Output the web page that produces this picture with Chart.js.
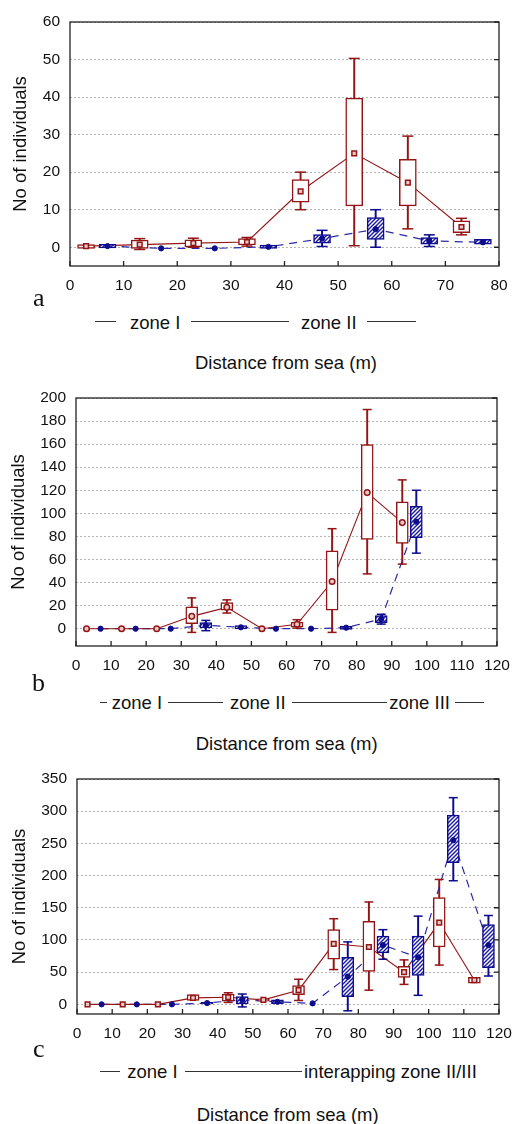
<!DOCTYPE html>
<html lang="en">
<head>
<meta charset="UTF-8" />
<title>No of individuals vs distance from sea</title>
<script src="https://cdn.jsdelivr.net/npm/chart.js@4"></script>
<style>
  body { margin:0; background:#fff; width:513px; height:1124px; position:relative; overflow:hidden;
         font-family:'Liberation Sans', Arial, sans-serif; color:#111; }
  canvas { position:absolute; left:0; }
  .t { position:absolute; white-space:nowrap; line-height:1; font-size:18.5px; }
  .letter { position:absolute; font-family:'Liberation Serif', serif; font-size:26px; line-height:1; }
  .rule { position:absolute; height:0; border-top:1px solid #333; }
</style>
</head>
<body>
<canvas id="chartA" width="513" height="300" style="top:0px"></canvas>
<canvas id="chartB" width="513" height="304" style="top:376px"></canvas>
<canvas id="chartC" width="513" height="291" style="top:757px"></canvas>

<!-- panel a labels -->
<div class="letter" style="left:33px; top:285px">a</div>
<div class="rule" style="left:95px; width:21px; top:321px"></div>
<div class="t" style="left:130px; top:313.6px">zone I</div>
<div class="rule" style="left:191px; width:98px; top:321px"></div>
<div class="t" style="left:301px; top:313.6px">zone II</div>
<div class="rule" style="left:367px; width:49px; top:321px"></div>
<div class="t" style="left:195px; top:354.3px">Distance from sea (m)</div>

<!-- panel b labels -->
<div class="letter" style="left:32px; top:670px">b</div>
<div class="rule" style="left:100px; width:7px; top:702px"></div>
<div class="t" style="left:111.7px; top:693.6px">zone I</div>
<div class="rule" style="left:168px; width:55px; top:702px"></div>
<div class="t" style="left:230px; top:693.6px">zone II</div>
<div class="rule" style="left:292px; width:95px; top:702px"></div>
<div class="t" style="left:389.3px; top:693.6px">zone III</div>
<div class="rule" style="left:455px; width:29px; top:702px"></div>
<div class="t" style="left:195.7px; top:735px">Distance from sea (m)</div>

<!-- panel c labels -->
<div class="letter" style="left:33px; top:1036px">c</div>
<div class="rule" style="left:100px; width:20px; top:1071px"></div>
<div class="t" style="left:127.3px; top:1063px">zone I</div>
<div class="rule" style="left:185px; width:117px; top:1071px"></div>
<div class="t" style="left:304px; top:1063px">interapping zone II/III</div>
<div class="t" style="left:196.7px; top:1105.8px">Distance from sea (m)</div>

<script>
// ---- panel a ----
const aXTicks = [0, 10, 20, 30, 40, 50, 60, 70, 80];
const aYTicks = [0, 10, 20, 30, 40, 50, 60];
const aRedX   = [3, 13, 23, 33, 43, 53, 63, 73];
const aRedMed = [0.3, 0.7, 1.1, 1.4, 14.9, 25, 17.2, 5.4];
const aRedQ1  = [-0.3, -0.3, 0.1, 0.6, 12, 11, 11, 3.9];
const aRedQ3  = [0.7, 1.9, 2.0, 2.3, 18, 39.7, 23.4, 7];
const aRedLo  = [null, -0.6, 0, 0.3, 10, 0.4, 4.9, 3.3];
const aRedHi  = [null, 2.3, 2.4, 2.6, 20, 50.3, 29.6, 7.7];
const aBlueX   = [7, 17, 27, 37, 47, 57, 67, 77];
const aBlueMed = [0.3, -0.3, -0.3, 0.1, 2.3, 4.8, 1.7, 1.3];
const aBlueQ1  = [-0.2, null, null, -0.3, 1.1, 2.1, 0.8, 0.8];
const aBlueQ3  = [0.8, null, null, 0.6, 3.4, 7.9, 2.6, 2.1];
const aBlueLo  = [null, null, null, null, 0.2, 0, 0.2, null];
const aBlueHi  = [null, null, null, null, 4.5, 10, 3.3, null];

// ---- panel b ----
const bXTicks = [0, 10, 20, 30, 40, 50, 60, 70, 80, 90, 100, 110, 120];
const bYTicks = [0, 20, 40, 60, 80, 100, 120, 140, 160, 180, 200];
const bRedX   = [3, 13, 23, 33, 43, 53, 63, 73, 83, 93];
const bRedMed = [0, 0, 0, 10.7, 18.5, 0, 3.8, 40.9, 118, 92];
const bRedQ1  = [null, null, null, 4.3, 16, null, 1.4, 16, 77.4, 74];
const bRedQ3  = [null, null, null, 19, 22.6, null, 5.8, 67.5, 159.7, 110];
const bRedLo  = [null, null, null, -3.2, 13.6, null, 0.5, -3.2, 47.5, 56];
const bRedHi  = [null, null, null, 26.7, 25, null, 7.8, 86.7, 190, 129];
const bBlueX   = [7, 17, 27, 37, 47, 57, 67, 77, 87, 97];
const bBlueMed = [0, 0, 0, 2.9, 1.2, 0, 0, 0.9, 8.4, 92.8];
const bBlueQ1  = [null, null, null, 0.6, -0.3, null, null, -0.6, 5.2, 79];
const bBlueQ3  = [null, null, null, 5.2, 2.6, null, null, 2.3, 11.3, 106];
const bBlueLo  = [null, null, null, -1.7, null, null, null, null, 4, 65.5];
const bBlueHi  = [null, null, null, 7.2, null, null, null, null, 12.5, 120];

// ---- panel c ----
const cXTicks = [0, 10, 20, 30, 40, 50, 60, 70, 80, 90, 100, 110, 120];
const cYTicks = [0, 50, 100, 150, 200, 250, 300, 350];
const cRedX   = [3, 13, 23, 33, 43, 53, 63, 73, 83, 93, 103, 113];
const cRedMed = [0, 0, 0, 10, 11, 7, 22, 94, 89, 50, 127, 37.5];
const cRedQ1  = [null, null, null, 6, 5, 5, 15, 70, 51, 42, 89, 33];
const cRedQ3  = [null, null, null, 15, 16, 8.5, 29, 116, 129, 59, 166, 42];
const cRedLo  = [null, null, null, null, 3, null, 6, 54, 22, 31, 61, null];
const cRedHi  = [null, null, null, null, 18, null, 39, 133, 159, 69, 194, null];
const cBlueX   = [7, 17, 27, 37, 47, 57, 67, 77, 87, 97, 107, 117];
const cBlueMed = [0, 0, 0, 2, 7, 4, 1.5, 43, 92, 73, 255, 92];
const cBlueQ1  = [null, null, null, 0.5, 0, 1, null, 12, 80, 45, 220, 57];
const cBlueQ3  = [null, null, null, 3, 12, 7, null, 73, 106, 106, 294, 124];
const cBlueLo  = [null, null, null, null, -4, null, null, -10, 70, 14, 192, 44];
const cBlueHi  = [null, null, null, null, 16, null, null, 97, 116, 137, 321, 138];

const RED = '#931515';
const BLUE = '#0c0c8c';
const FONT = 'Liberation Sans, Arial, sans-serif';

function hatch() {
  const c = document.createElement('canvas');
  c.width = 4; c.height = 4;
  const g = c.getContext('2d');
  g.fillStyle = '#1c1ca4';
  g.fillRect(0, 0, 4, 4);
  g.strokeStyle = '#fff';
  g.lineWidth = 1.4;
  g.beginPath();
  g.moveTo(0, 4); g.lineTo(4, 0);
  g.moveTo(-1, 1); g.lineTo(1, -1);
  g.moveTo(3, 5); g.lineTo(5, 3);
  g.stroke();
  return g.createPattern(c, 'repeat');
}

// border box + inward ticks on bottom and right edges
const frame = {
  id: 'frame',
  afterDraw(chart) {
    const { ctx, chartArea: a, scales: { x, y } } = chart;
    ctx.save();
    ctx.strokeStyle = '#222';
    ctx.lineWidth = 1.3;
    ctx.strokeRect(a.left, a.top, a.right - a.left, a.bottom - a.top);
    ctx.beginPath();
    x.ticks.forEach(t => {
      const px = x.getPixelForValue(t.value);
      ctx.moveTo(px, a.bottom); ctx.lineTo(px, a.bottom - 5);
    });
    y.ticks.forEach(t => {
      const py = y.getPixelForValue(t.value);
      ctx.moveTo(a.right, py); ctx.lineTo(a.right - 5, py);
    });
    ctx.stroke();
    ctx.restore();
  }
};

const ranges = (xs, a, b) => xs.map((x, i) => a[i] == null ? null : { x, y: [a[i], b[i]] }).filter(Boolean);
const caps = (xs, lo, hi) => xs.flatMap((x, i) => lo[i] == null ? [] : [{ x, y: lo[i] }, { x, y: hi[i] }]);
const pts = (xs, m) => xs.map((x, i) => ({ x, y: m[i] }));

function boxChart(id, p) {
  const pattern = hatch();
  const bar = (data, bg, border, w, order, bw) => ({
    type: 'bar', data, backgroundColor: bg, borderColor: border, borderWidth: bw,
    borderSkipped: false, barThickness: w, grouped: false, order
  });
  return new Chart(document.getElementById(id), {
    type: 'bar',
    data: {
      datasets: [
        bar(ranges(p.rx, p.rlo, p.rhi), RED, RED, 1.3, 8, 0),
        bar(ranges(p.bx, p.blo, p.bhi), BLUE, BLUE, 1.3, 8, 0),
        { type: 'line', data: pts(p.rx, p.rmed), borderColor: RED, borderWidth: 1.1,
          pointRadius: 0, tension: 0, order: 7 },
        { type: 'line', data: pts(p.bx, p.bmed), borderColor: '#2a2aa6', borderWidth: 1.2,
          borderDash: [8, 6], pointRadius: 0, tension: 0, order: 7 },
        bar(ranges(p.rx, p.rq1, p.rq3), '#fff', RED, p.boxW, 5, 1.5),
        bar(ranges(p.bx, p.bq1, p.bq3), pattern, BLUE, p.boxW, 5, 1.5),
        { type: 'scatter', data: caps(p.rx, p.rlo, p.rhi), pointStyle: 'line',
          pointRadius: p.capR, borderColor: RED, borderWidth: 1.5, order: 3 },
        { type: 'scatter', data: caps(p.bx, p.blo, p.bhi), pointStyle: 'line',
          pointRadius: p.capR, borderColor: BLUE, borderWidth: 1.5, order: 3 },
        { type: 'scatter', data: pts(p.rx, p.rmed), pointStyle: p.redMark,
          pointRadius: p.redMark === 'rect' ? 3.3 : 2.8, backgroundColor: '#e8c8c8',
          borderColor: RED, borderWidth: 1.5, order: 1 },
        { type: 'scatter', data: pts(p.bx, p.bmed), pointStyle: 'circle',
          pointRadius: 2.6, backgroundColor: BLUE, borderColor: BLUE, borderWidth: 1, order: 1 }
      ]
    },
    options: {
      responsive: false,
      animation: false,
      devicePixelRatio: 1,
      events: [],
      layout: { padding: { left: 0, right: p.rightPad, top: 22, bottom: 0 } },
      plugins: { legend: { display: false }, tooltip: { enabled: false } },
      scales: {
        x: {
          type: 'linear', min: 0, max: p.xTicks[p.xTicks.length - 1], offset: false,
          afterBuildTicks: s => { s.ticks = p.xTicks.map(v => ({ value: v })); },
          afterFit: s => { s.height = 34; s.paddingLeft = 0; s.paddingRight = 0; },
          grid: { display: false, drawTicks: false, offset: false },
          border: { display: false },
          ticks: { color: '#111', font: { family: FONT, size: 15.5 }, padding: 10,
                   maxRotation: 0, autoSkip: false }
        },
        y: {
          type: 'linear', min: p.yMin, max: p.yTicks[p.yTicks.length - 1],
          afterBuildTicks: s => { s.ticks = p.yTicks.map(v => ({ value: v })); },
          afterFit: s => { s.width = p.axisW; s.paddingTop = 0; s.paddingBottom = 0; },
          grid: { color: '#b4b4b4', lineWidth: 1, drawTicks: false },
          border: { display: false, dash: [2, 2] },
          ticks: { color: '#111', font: { family: FONT, size: 15.5 }, padding: 10 },
          title: { display: true, text: 'No of individuals', color: '#111',
                   font: { family: FONT, size: 18.5 }, padding: { top: p.titlePad, bottom: 0 } }
        }
      }
    },
    plugins: [frame]
  });
}

boxChart('chartA', {
  xTicks: aXTicks, yTicks: aYTicks, yMin: -5, axisW: 70, rightPad: 14, titlePad: 10,
  boxW: 17, capR: 5.5, redMark: 'rect',
  rx: aRedX, rmed: aRedMed, rq1: aRedQ1, rq3: aRedQ3, rlo: aRedLo, rhi: aRedHi,
  bx: aBlueX, bmed: aBlueMed, bq1: aBlueQ1, bq3: aBlueQ3, blo: aBlueLo, bhi: aBlueHi
});
boxChart('chartB', {
  xTicks: bXTicks, yTicks: bYTicks, yMin: -15, axisW: 76, rightPad: 16, titlePad: 7.6,
  boxW: 12, capR: 4.5, redMark: 'circle',
  rx: bRedX, rmed: bRedMed, rq1: bRedQ1, rq3: bRedQ3, rlo: bRedLo, rhi: bRedHi,
  bx: bBlueX, bmed: bBlueMed, bq1: bBlueQ1, bq3: bBlueQ3, blo: bBlueLo, bhi: bBlueHi
});
boxChart('chartC', {
  xTicks: cXTicks, yTicks: cYTicks, yMin: -15, axisW: 77, rightPad: 14, titlePad: 8.6,
  boxW: 12, capR: 4.5, redMark: 'rect',
  rx: cRedX, rmed: cRedMed, rq1: cRedQ1, rq3: cRedQ3, rlo: cRedLo, rhi: cRedHi,
  bx: cBlueX, bmed: cBlueMed, bq1: cBlueQ1, bq3: cBlueQ3, blo: cBlueLo, bhi: cBlueHi
});
</script>
</body>
</html>
